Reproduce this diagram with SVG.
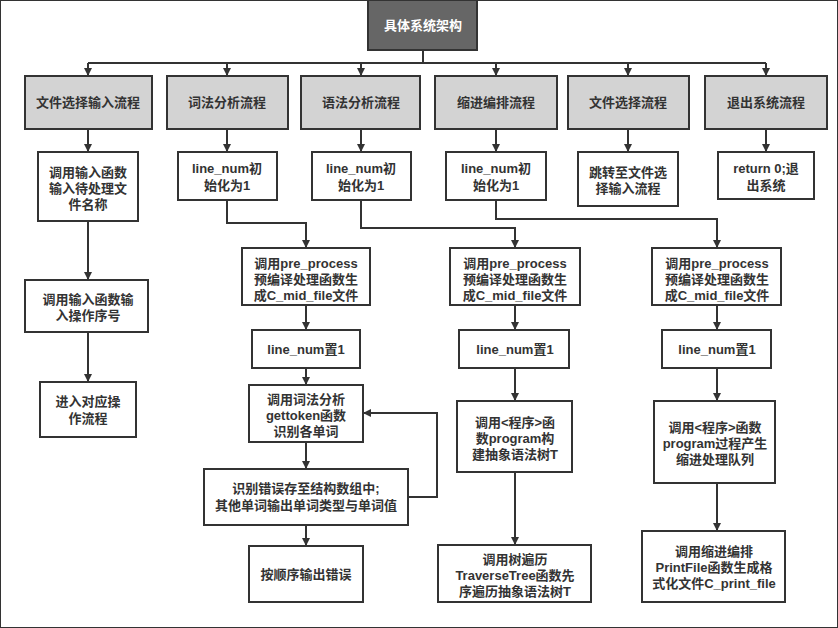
<svg xmlns="http://www.w3.org/2000/svg" width="838" height="628" viewBox="0 0 838 628">
<defs>
<marker id="a" viewBox="0 0 10 10" refX="10" refY="5" markerWidth="4" markerHeight="4" orient="auto"><path d="M0,0 L10,5 L0,10 z" fill="#333"/></marker>
<style>
rect{stroke:#333;stroke-width:2;fill:#fff}
.g{fill:#d3d3d3}
.t{fill:#666}
text{font-family:"Liberation Sans","Noto Sans CJK SC",sans-serif;font-size:13px;font-weight:bold;fill:#333;text-anchor:middle}
.w{fill:#fff}
#c path{fill:none;stroke:#333;stroke-width:2;marker-end:url(#a)}
#c path.n{marker-end:none}
</style>
</defs>
<rect width="838" height="628" fill="#fff" stroke="none"/>
<g id="c">
<path class="n" d="M423,50 V63"/>
<path class="n" d="M88,63 H766"/>
<path d="M88,63 V76"/><path d="M227,63 V76"/><path d="M361,63 V76"/><path d="M496,63 V76"/><path d="M628,63 V76"/><path d="M766,63 V76"/>
<path d="M88,129 V152"/><path d="M227,129 V152"/><path d="M361,129 V152"/><path d="M496,129 V152"/><path d="M628,129 V152"/><path d="M766,129 V152"/>
<path d="M88,221 V280"/><path d="M88,332 V382"/>
<path d="M227,200 V223 H306 V248"/>
<path d="M361,200 V228 H515 V248"/>
<path d="M496,200 V219 H717 V248"/>
<path d="M306,305 V330"/><path d="M515,305 V330"/><path d="M717,305 V330"/>
<path d="M306,368 V385"/><path d="M306,442 V469"/><path d="M306,525 V546"/>
<path d="M408,497 H437 V413 H363"/>
<path d="M515,368 V401"/><path d="M515,472 V545"/>
<path d="M717,368 V401"/><path d="M717,483 V531"/>
</g>
<g id="top"><rect class="t" x="368" y="0" width="109" height="50"/><text class="w" x="423" y="30">具体系统架构</text></g>
<g id="h1"><rect class="g" x="25" y="76" width="127" height="53"/><text x="88" y="107">文件选择输入流程</text></g>
<g id="h2"><rect class="g" x="167" y="76" width="121" height="53"/><text x="227" y="107">词法分析流程</text></g>
<g id="h3"><rect class="g" x="301" y="76" width="119" height="53"/><text x="361" y="107">语法分析流程</text></g>
<g id="h4"><rect class="g" x="435" y="76" width="122" height="53"/><text x="496" y="107">缩进编排流程</text></g>
<g id="h5"><rect class="g" x="568" y="76" width="121" height="53"/><text x="628" y="107">文件选择流程</text></g>
<g id="h6"><rect class="g" x="705" y="76" width="122" height="53"/><text x="766" y="107">退出系统流程</text></g>
<g id="s1"><rect x="38" y="152" width="100" height="69"/><text x="88" y="177">调用输入函数</text><text x="88" y="193">输入待处理文</text><text x="88" y="209">件名称</text></g>
<g id="s2"><rect x="178" y="152" width="99" height="48"/><text x="227" y="173">line_num初</text><text x="227" y="190">始化为1</text></g>
<g id="s3"><rect x="312" y="152" width="99" height="48"/><text x="361" y="173">line_num初</text><text x="361" y="190">始化为1</text></g>
<g id="s4"><rect x="446" y="152" width="100" height="48"/><text x="496" y="173">line_num初</text><text x="496" y="190">始化为1</text></g>
<g id="s5"><rect x="578" y="152" width="100" height="54"/><text x="628" y="177">跳转至文件选</text><text x="628" y="193">择输入流程</text></g>
<g id="s6"><rect x="718" y="152" width="96" height="47"/><text x="766" y="173">return 0;退</text><text x="766" y="190">出系统</text></g>
<g id="f2"><rect x="25" y="280" width="123" height="52"/><text x="88" y="304">调用输入函数输</text><text x="88" y="320">入操作序号</text></g>
<g id="f3"><rect x="40" y="382" width="96" height="55"/><text x="88" y="406">进入对应操</text><text x="88" y="423">作流程</text></g>
<g id="pa"><rect x="242" y="248" width="128" height="57"/><text x="306" y="268">调用pre_process</text><text x="306" y="284">预编译处理函数生</text><text x="306" y="300">成C_mid_file文件</text></g>
<g id="pb"><rect x="450" y="248" width="130" height="57"/><text x="515" y="268">调用pre_process</text><text x="515" y="284">预编译处理函数生</text><text x="515" y="300">成C_mid_file文件</text></g>
<g id="pc"><rect x="652" y="248" width="129" height="57"/><text x="717" y="268">调用pre_process</text><text x="717" y="284">预编译处理函数生</text><text x="717" y="300">成C_mid_file文件</text></g>
<g id="la"><rect x="252" y="330" width="108" height="38"/><text x="306" y="354">line_num置1</text></g>
<g id="lb"><rect x="459" y="330" width="110" height="38"/><text x="515" y="354">line_num置1</text></g>
<g id="lc"><rect x="662" y="330" width="109" height="38"/><text x="717" y="354">line_num置1</text></g>
<g id="ga"><rect x="249" y="385" width="114" height="57"/><text x="306" y="404">调用词法分析</text><text x="306" y="420">gettoken函数</text><text x="306" y="436">识别各单词</text></g>
<g id="ea"><rect x="204" y="469" width="204" height="56"/><text x="306" y="493">识别错误存至结构数组中;</text><text x="306" y="510">其他单词输出单词类型与单词值</text></g>
<g id="oa"><rect x="249" y="546" width="114" height="56"/><text x="306" y="579">按顺序输出错误</text></g>
<g id="gb"><rect x="457" y="401" width="115" height="71"/><text x="515" y="427">调用&lt;程序&gt;函</text><text x="515" y="443">数program构</text><text x="515" y="459">建抽象语法树T</text></g>
<g id="tb"><rect x="438" y="545" width="153" height="57"/><text x="515" y="564">调用树遍历</text><text x="515" y="580">TraverseTree函数先</text><text x="515" y="596">序遍历抽象语法树T</text></g>
<g id="gc"><rect x="654" y="401" width="121" height="82"/><text x="715" y="432">调用&lt;程序&gt;函数</text><text x="715" y="448">program过程产生</text><text x="715" y="464">缩进处理队列</text></g>
<g id="tc"><rect x="642" y="531" width="143" height="71"/><text x="714" y="556">调用缩进编排</text><text x="714" y="572">PrintFile函数生成格</text><text x="714" y="588">式化文件C_print_file</text></g>
</svg>
